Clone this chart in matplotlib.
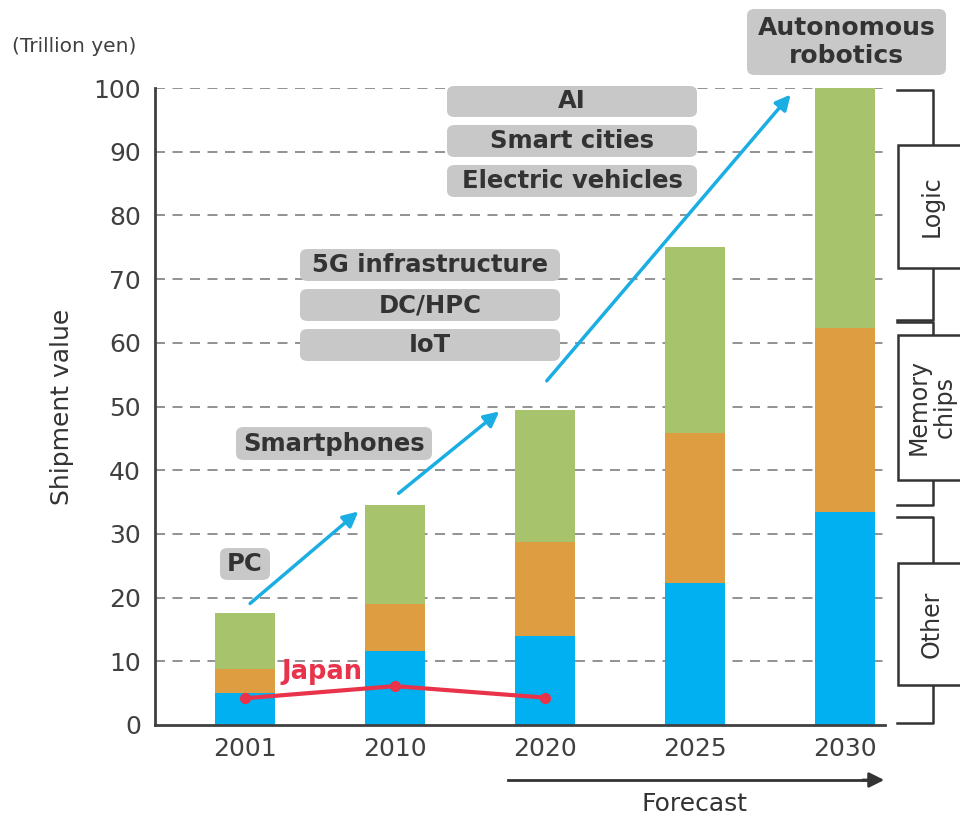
import matplotlib
matplotlib.use("Agg")
import matplotlib.pyplot as plt
from matplotlib.patches import FancyBboxPatch, Rectangle

years = ["2001", "2010", "2020", "2025", "2030"]
other = [5.1, 11.6, 14.0, 22.3, 33.5]
memory = [3.7, 7.4, 14.8, 23.5, 28.8]
logic = [8.8, 15.5, 20.7, 29.2, 37.7]
japan_years = [0, 1, 2]
japan = [4.2, 6.1, 4.3]

fig = plt.figure(figsize=(9.6, 8.17), dpi=100)
W, H = 960, 817
ax = fig.add_axes([155 / W, 1 - 725 / H, 730 / W, 637 / H])

x = list(range(len(years)))
bottom2 = [a + b for a, b in zip(other, memory)]
ax.bar(x, other, width=0.4, color="#00B0F0", zorder=2)
ax.bar(x, memory, width=0.4, bottom=other, color="#DE9D40", zorder=2)
ax.bar(x, logic, width=0.4, bottom=bottom2, color="#A7C36C", zorder=2)

ax.plot(japan_years, japan, color="#E8334A", lw=3, marker="o", ms=7, zorder=4)
ax.text(0.51, 8.3, "Japan", color="#E8334A", fontsize=18.5, fontweight="bold",
        ha="center", va="center", zorder=5)

ax.set_xlim(-0.6, 4.267)
ax.set_ylim(0, 100)
ax.set_yticks(range(0, 101, 10))
ax.set_xticks(x)
ax.set_xticklabels(years)
ax.tick_params(length=0, labelsize=18, labelcolor="#404040", pad=9)
ax.tick_params(axis="y", pad=10)
for v in range(10, 101, 10):
    ax.axhline(v, color="#7f7f7f", lw=1.2, ls=(0, (6, 4.5)), zorder=1)
for s in ["top", "right"]:
    ax.spines[s].set_visible(False)
for s in ["left", "bottom"]:
    ax.spines[s].set_color("#404040")
    ax.spines[s].set_linewidth(2)
ax.set_ylabel("Shipment value", fontsize=18, color="#333333", labelpad=14)

fig.text(12 / W, 1 - 47 / H, "(Trillion yen)", fontsize=14.5, color="#404040",
         ha="left", va="center")

# growth arrows
arrow_kw = dict(arrowstyle="-|>,head_length=0.9,head_width=0.45", color="#1AAEE3", lw=2.5)
ax.annotate("", xy=(0.77, 33.8), xytext=(0.02, 18.8), arrowprops=arrow_kw, zorder=3)
ax.annotate("", xy=(1.71, 49.5), xytext=(1.01, 36.1), arrowprops=arrow_kw, zorder=3)
ax.annotate("", xy=(3.65, 99.3), xytext=(2.0, 53.7), arrowprops=arrow_kw, zorder=3)

# gray application boxes (pixel layout)
boxes = [
    ("Autonomous\nrobotics", 747, 9, 946, 75, 18),
    ("AI", 447, 86, 697, 117, 17.5),
    ("Smart cities", 447, 125, 697, 157, 17.5),
    ("Electric vehicles", 447, 165, 697, 197, 17.5),
    ("5G infrastructure", 300, 249, 560, 281, 17.5),
    ("DC/HPC", 300, 289, 560, 321, 17.5),
    ("IoT", 300, 329, 560, 361, 17.5),
    ("Smartphones", 236, 427, 432, 460, 17.5),
    ("PC", 220, 548, 270, 580, 17.5),
]
for label, x0, y0, x1, y1, fs in boxes:
    patch = FancyBboxPatch((x0 / W, 1 - y1 / H), (x1 - x0) / W, (y1 - y0) / H,
                           boxstyle="round,pad=0,rounding_size=0.008",
                           transform=fig.transFigure, facecolor="#C8C8C8",
                           edgecolor="none", zorder=6)
    fig.patches.append(patch)
    fig.text((x0 + x1) / 2 / W, 1 - (y0 + y1) / 2 / H, label, fontsize=fs,
             fontweight="bold", color="#333333", ha="center", va="center",
             linespacing=1.25, zorder=7)

# right-side brackets
brackets = [
    ("Logic", 90, 320, 145, 268),
    ("Memory\nchips", 322, 505, 335, 480),
    ("Other", 517, 723, 563, 685),
]
for label, t, b, bt, bb in brackets:
    xs = [897 / W, 933 / W, 933 / W, 897 / W]
    ys = [1 - t / H, 1 - t / H, 1 - b / H, 1 - b / H]
    fig.add_artist(plt.Line2D(xs, ys, color="#333333", lw=1.8))
    rect = Rectangle((898 / W, 1 - bb / H), 70 / W, (bb - bt) / H,
                     transform=fig.transFigure, facecolor="white",
                     edgecolor="#333333", lw=1.8, zorder=5)
    fig.patches.append(rect)
    fig.text(932 / W, 1 - (bt + bb) / 2 / H, label, rotation=90, fontsize=17,
             color="#333333", ha="center", va="center", linespacing=1.1, zorder=6)

# forecast arrow
fig.add_artist(plt.Line2D([508 / W, 870 / W], [1 - 780 / H, 1 - 780 / H],
                          color="#333333", lw=2))
ax.annotate("", xy=(887 / W, 1 - 780 / H), xytext=(860 / W, 1 - 780 / H),
            xycoords="figure fraction", textcoords="figure fraction",
            arrowprops=dict(arrowstyle="-|>,head_length=0.9,head_width=0.45",
                            color="#333333", lw=2))
fig.text(695 / W, 1 - 804 / H, "Forecast", fontsize=18, color="#333333",
         ha="center", va="center")

fig.savefig("out.png", dpi=100)
